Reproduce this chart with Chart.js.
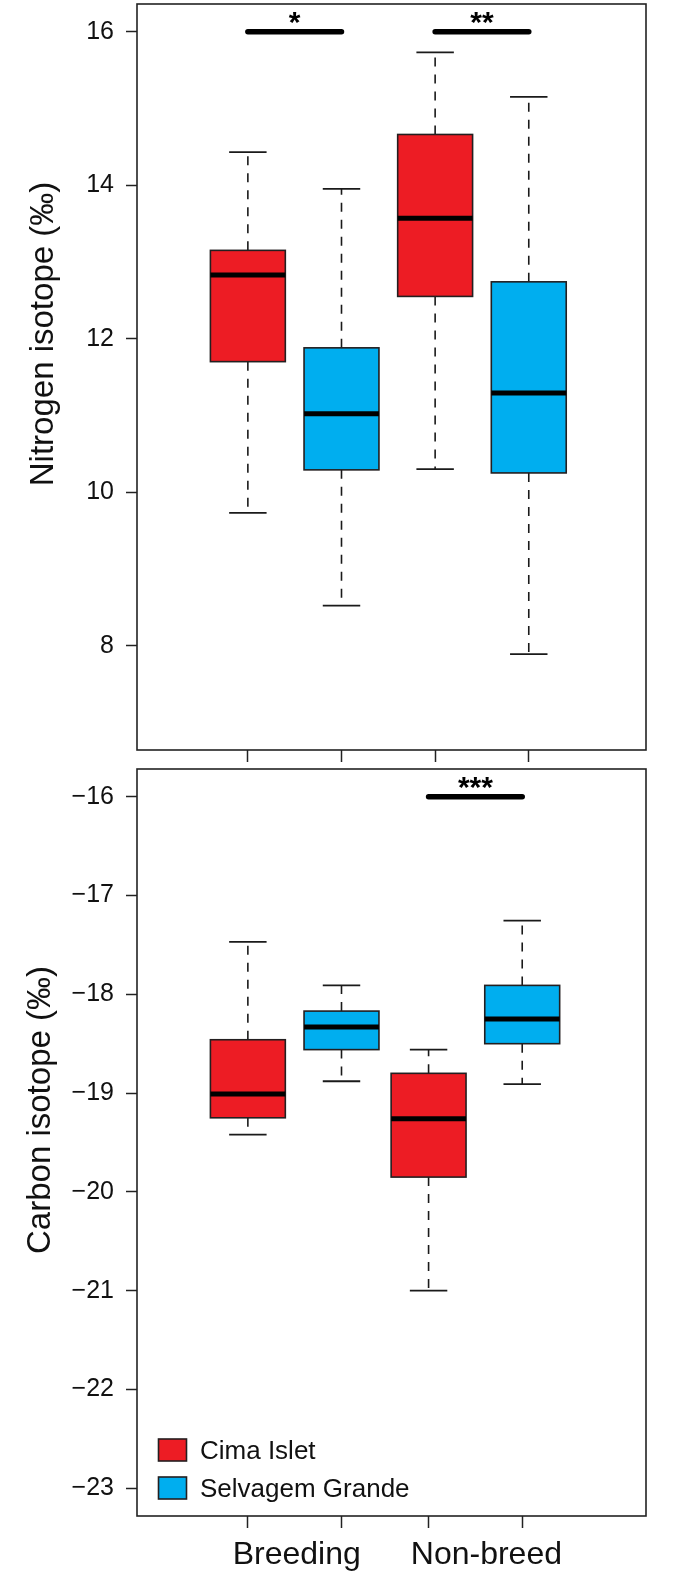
<!DOCTYPE html>
<html><head><meta charset="utf-8">
<script src="https://cdn.jsdelivr.net/npm/chart.js@4.4.1/dist/chart.umd.min.js"></script>
<style>
html,body{margin:0;padding:0;background:#fff;width:673px;height:1576px;overflow:hidden;}
#c1{position:absolute;left:0;top:0;}
#c2{position:absolute;left:0;top:766px;}
</style></head><body>
<canvas id="c1" width="673" height="766"></canvas>
<canvas id="c2" width="673" height="810"></canvas>
<script>
// ---------------- data ----------------
const categories = ["Breeding", "Non-breed"];
const seriesNames = ["Cima Islet", "Selvagem Grande"];
// box order: Breeding-Cima, Breeding-Selvagem, Non-breed-Cima, Non-breed-Selvagem
const nitrogenMin    = [9.73, 8.52, 10.30, 7.89];
const nitrogenQ1     = [11.70, 10.29, 12.55, 10.25];
const nitrogenMedian = [12.83, 11.02, 13.57, 11.29];
const nitrogenQ3     = [13.15, 11.88, 14.66, 12.74];
const nitrogenMax    = [14.43, 13.95, 15.73, 15.15];
const nitrogenTicks  = [8, 10, 12, 14, 16];
const nitrogenSigLevel = 16;
const nitrogenSigPairs = [[0, 1], [2, 3]];
const nitrogenSigLabels = ["*", "**"];

const carbonMin    = [-19.42, -18.88, -21.00, -18.91];
const carbonQ1     = [-19.25, -18.56, -19.85, -18.50];
const carbonMedian = [-19.01, -18.33, -19.26, -18.25];
const carbonQ3     = [-18.46, -18.17, -18.80, -17.91];
const carbonMax    = [-17.47, -17.91, -18.56, -17.255];
const carbonTicks  = [-23, -22, -21, -20, -19, -18, -17, -16];
const carbonSigLevel = -16;
const carbonSigPairs = [[2, 3]];
const carbonSigLabels = ["***"];

// ---------------- layout / style ----------------
const FONT = "'Liberation Sans', Arial, Helvetica, sans-serif";
const COLORS = ["#ED1C24", "#00AEEF"];
const INK = "#1a1a1a";
const nitrogenPos = [1, 2, 3, 4];
const carbonPos = [1, 2, 2.93, 3.93];
const X_MIN = -0.184, X_MAX = 5.252;
const BOX_HALF = 0.4, CAP_HALF = 0.2;

function fmt(v){ return v < 0 ? "\u2212" + Math.abs(v) : String(v); }

function line(ctx, x1, y1, x2, y2){ ctx.beginPath(); ctx.moveTo(x1, y1); ctx.lineTo(x2, y2); ctx.stroke(); }

function makePlugin(p){
  return {
    id: 'boxplotDraw',
    afterDraw(chart){
      const ctx = chart.ctx;
      const xs = chart.scales.x, ys = chart.scales.y;
      const X = v => xs.getPixelForValue(v);
      const Y = v => ys.getPixelForValue(v);
      const ca = chart.chartArea;
      ctx.save();
      for (let i = 0; i < p.pos.length; i++){
        const cx = X(p.pos[i]);
        const hw = X(p.pos[i] + BOX_HALF) - cx;
        const cw = X(p.pos[i] + CAP_HALF) - cx;
        // whiskers
        ctx.strokeStyle = INK; ctx.lineWidth = 1.6; ctx.lineCap = 'butt';
        ctx.setLineDash([9, 8]);
        line(ctx, cx, Y(p.q3[i]), cx, Y(p.max[i]));
        line(ctx, cx, Y(p.q1[i]), cx, Y(p.min[i]));
        ctx.setLineDash([]);
        ctx.lineWidth = 1.8;
        line(ctx, cx - cw, Y(p.max[i]), cx + cw, Y(p.max[i]));
        line(ctx, cx - cw, Y(p.min[i]), cx + cw, Y(p.min[i]));
        // box
        const yt = Y(p.q3[i]), yb = Y(p.q1[i]);
        ctx.fillStyle = COLORS[i % 2];
        ctx.fillRect(cx - hw, yt, 2 * hw, yb - yt);
        ctx.lineWidth = 1.6; ctx.strokeStyle = "#231f20";
        ctx.strokeRect(cx - hw, yt, 2 * hw, yb - yt);
        // median
        ctx.lineWidth = 5; ctx.strokeStyle = "#000";
        line(ctx, cx - hw, Y(p.med[i]), cx + hw, Y(p.med[i]));
      }
      // significance bars
      p.sigPairs.forEach((pr, k) => {
        const x1 = X(p.pos[pr[0]]), x2 = X(p.pos[pr[1]]), y = Y(p.sigLevel);
        ctx.lineWidth = 5.5; ctx.lineCap = 'round'; ctx.strokeStyle = "#000";
        line(ctx, x1, y, x2, y);
        ctx.font = "bold 30px " + FONT;
        ctx.fillStyle = "#000"; ctx.textAlign = 'center'; ctx.textBaseline = 'alphabetic';
        const m = ctx.measureText(p.sigLabels[k]);
        const inkMid = (m.actualBoundingBoxAscent - m.actualBoundingBoxDescent) / 2;
        ctx.fillText(p.sigLabels[k], (x1 + x2) / 2, y - 14 + inkMid);
      });
      ctx.lineCap = 'butt';
      // frame
      ctx.lineWidth = 1.6; ctx.strokeStyle = "#222";
      ctx.strokeRect(ca.left, ca.top, ca.right - ca.left, ca.bottom - ca.top);
      // axis title
      ctx.save();
      ctx.translate(p.titleX, p.titleY);
      ctx.rotate(-Math.PI / 2);
      ctx.font = "33px " + FONT; ctx.fillStyle = "#111";
      ctx.textAlign = 'center'; ctx.textBaseline = 'alphabetic';
      ctx.fillText(p.title, 0, 0);
      ctx.restore();
      if (p.showLegend){
        ctx.font = "26px " + FONT;
        ctx.textAlign = 'left'; ctx.textBaseline = 'alphabetic';
        seriesNames.forEach((s, k) => {
          const top = 673 + k * 38;
          ctx.fillStyle = COLORS[k];
          ctx.fillRect(158.5, top, 28, 22);
          ctx.lineWidth = 1.6; ctx.strokeStyle = "#231f20";
          ctx.strokeRect(158.5, top, 28, 22);
          ctx.fillStyle = "#111";
          ctx.fillText(s, 200, top + 11 + 8.5);
        });
        // category labels
        ctx.font = "32px " + FONT; ctx.textAlign = 'center'; ctx.fillStyle = "#111";
        const nudge = [2, 11];
        categories.forEach((c, k) => {
          const mid = (X(p.pos[2 * k]) + X(p.pos[2 * k + 1])) / 2 + nudge[k];
          ctx.fillText(c, mid, 798);
        });
      }
      ctx.restore();
    }
  };
}

function makeChart(canvasId, p){
  return new Chart(document.getElementById(canvasId), {
    type: 'scatter',
    data: { datasets: [] },
    options: {
      responsive: false, animation: false, devicePixelRatio: 1,
      layout: { padding: { left: 0, right: 27, top: p.padTop, bottom: 0 } },
      plugins: { legend: { display: false }, tooltip: { enabled: false } },
      scales: {
        x: {
          type: 'linear', min: X_MIN, max: X_MAX,
          afterBuildTicks: s => { s.ticks = p.pos.map(v => ({ value: v })); },
          ticks: { display: false },
          grid: { drawOnChartArea: false, drawTicks: true, tickLength: 12, tickWidth: 1.5, tickColor: "#222" },
          border: { display: false },
          afterFit: s => { s.height = p.xAxisHeight; s.paddingLeft = 0; s.paddingRight = 0; }
        },
        y: {
          type: 'linear', min: p.yMin, max: p.yMax,
          afterBuildTicks: s => { s.ticks = p.ticks.map(v => ({ value: v })); },
          ticks: { font: { family: FONT, size: 25 }, color: "#111", padding: 12, callback: v => fmt(v), autoSkip: false },
          grid: { drawOnChartArea: false, drawTicks: true, tickLength: 11, tickWidth: 1.5, tickColor: "#222" },
          border: { display: false },
          afterFit: s => { s.width = 137; s.paddingTop = 0; s.paddingBottom = 0; }
        }
      }
    },
    plugins: [makePlugin(p)]
  });
}

makeChart('c1', {
  pos: nitrogenPos, min: nitrogenMin, q1: nitrogenQ1, med: nitrogenMedian, q3: nitrogenQ3, max: nitrogenMax,
  ticks: nitrogenTicks, yMin: 6.64, yMax: 16.36,
  sigLevel: nitrogenSigLevel, sigPairs: nitrogenSigPairs, sigLabels: nitrogenSigLabels,
  title: "Nitrogen isotope (\u2030)", titleX: 53, titleY: 334,
  padTop: 4, xAxisHeight: 16, showLegend: false
});
makeChart('c2', {
  pos: carbonPos, min: carbonMin, q1: carbonQ1, med: carbonMedian, q3: carbonQ3, max: carbonMax,
  ticks: carbonTicks, yMin: -23.28, yMax: -15.72,
  sigLevel: carbonSigLevel, sigPairs: carbonSigPairs, sigLabels: carbonSigLabels,
  title: "Carbon isotope (\u2030)", titleX: 50, titleY: 344,
  padTop: 3, xAxisHeight: 60, showLegend: true
});
</script>
</body></html>
